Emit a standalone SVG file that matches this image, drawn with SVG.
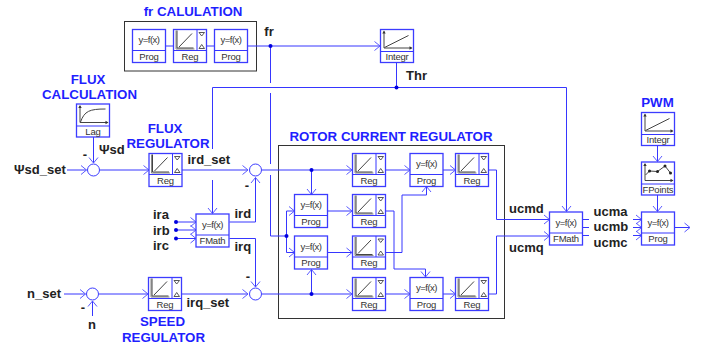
<svg xmlns="http://www.w3.org/2000/svg" xmlns:xlink="http://www.w3.org/1999/xlink" width="701" height="346" viewBox="0 0 701 346">
<style>
text{font-family:"Liberation Sans",Arial,sans-serif}
.t{font-size:13px;font-weight:700;fill:#222}
.b{font-size:13.300px;font-weight:700;fill:#1f1fff}
.m{text-anchor:middle}
.y{font-size:9.500px;letter-spacing:-.5px;fill:#333;text-anchor:middle}
.l{font-size:9.500px;letter-spacing:-.2px;fill:#333;text-anchor:middle}
.box{fill:#fff;stroke:#3c3cff;stroke-width:1.300}
.c{fill:none;stroke:#3636ff;stroke-width:1}
.a{marker-end:url(#arr)}
.s{fill:#fff;stroke:#3c3cff;stroke-width:1}
.frame{fill:none;stroke:#333;stroke-width:1}
.g{fill:none;stroke:#444;stroke-width:1}
.gl{fill:none;stroke:#888;stroke-width:1}
.tri{fill:none;stroke:#444;stroke-width:.9}
.d{fill:#0000e0}
</style>
<defs>
<marker id="arr" markerUnits="userSpaceOnUse" markerWidth="10" markerHeight="12" refX="8" refY="6" orient="auto"><path d="M2.500 1.500L8 6L2.500 10.500" fill="none" stroke="#5a5aff" stroke-width="1"/></marker>
<g id="prog"><rect class="box" width="33" height="33"/><path class="c" d="M0 21H33"/><text class="y" x="16.500" y="13.500">y=f(x)</text><text class="l" x="16.500" y="30">Prog</text></g>
<g id="fmath"><rect class="box" width="33" height="33"/><path class="c" d="M0 21H33"/><text class="y" x="16.500" y="13.500">y=f(x)</text><text class="l" x="16.500" y="30">FMath</text></g>
<g id="reg"><rect class="box" width="33" height="33"/><path class="c" d="M0 21H33M23.500 0V21"/><path class="gl" d="M2.500 1V19.500H21"/><path class="g" d="M3.500 1V18.500H20M5.500 17.500L18.500 4"/><path class="tri" d="M25.500 3H31L28.200 6.500ZM25.500 19H31L28.200 15Z"/><text class="l" x="16.500" y="30">Reg</text></g>
<g id="axes"><path class="g" d="M3.500 2V18.500H31"/><path d="M1.800 4L3.500 1L5.200 4ZM29 16.800L32 18.500L29 20.200Z" fill="#333"/></g>
<g id="integr"><rect class="box" width="33" height="33"/><path class="c" d="M0 22H33"/><use xlink:href="#axes"/><path class="g" d="M4 18L28 6"/><text class="l" x="16.500" y="30.500">Integr</text></g>
<g id="lag"><rect class="box" width="33" height="33"/><path class="c" d="M0 22H33"/><use xlink:href="#axes"/><path class="g" d="M4 18C8 7 13 5 29 5"/><text class="l" x="16.500" y="30.500">Lag</text></g>
<g id="fpoints"><rect class="box" width="33" height="33"/><path class="c" d="M0 22H33"/><use xlink:href="#axes"/><path class="g" d="M4 13L8 9L16 9.500L23.500 4L29 11"/><path d="M8 9h.01M16 9.500h.01M23.500 4h.01M29 11h.01" stroke="#222" stroke-width="3" stroke-linecap="round"/><text class="l" x="16.500" y="30.500">FPoints</text></g>
</defs>
<rect width="701" height="346" fill="#fff"/>
<rect class="frame" x="124.500" y="21.500" width="132" height="49.500"/>
<rect class="frame" x="278.500" y="145.500" width="226" height="173"/>
<g id="connectors">
<path class="c" d="M165.500 46H173.500M206.500 46H214.500"/>
<path class="c a" d="M247.500 46H380"/>
<path class="c" d="M270.500 46V83M270.500 93V164M270.500 175V236H286.500"/>
<path class="c" d="M212.500 149V87.500H566.500"/>
<path class="c a" d="M212.500 180V213.500"/>
<path class="c" d="M396.500 62V87"/>
<path class="c a" d="M566.500 87.500V211.500"/>
<path class="c a" d="M67 170H86.500"/>
<path class="c a" d="M93.500 137V163"/>
<path class="c a" d="M100 170H149"/>
<path class="c a" d="M182 170H248"/>
<path class="c a" d="M262 170H352"/>
<path class="c a" d="M64 294H85.500"/>
<path class="c a" d="M92.500 316V301"/>
<path class="c a" d="M99 294H148"/>
<path class="c a" d="M181.500 294H248"/>
<path class="c a" d="M262 294H352"/>
<path class="c a" d="M176 222H196"/>
<path class="c a" d="M176 230H196"/>
<path class="c a" d="M176 238.500H196"/>
<path class="c a" d="M229.500 222H255.500V177.500"/>
<path class="c a" d="M229.500 238.500H255.500V287"/>
<path class="c a" d="M311.500 170V194.500"/>
<path class="c a" d="M311.500 294V269.500"/>
<path class="c a" d="M286.500 236V211H294.500"/>
<path class="c a" d="M286.500 236V252.500H294.500"/>
<path class="c a" d="M327.500 211H352"/>
<path class="c a" d="M327.500 252.500H352"/>
<path class="c a" d="M385.500 170H410"/>
<path class="c a" d="M385.500 294H410"/>
<path class="c a" d="M385.500 211H394V269H425.500V277"/>
<path class="c a" d="M385.500 252.500H402V195H426.500V186.500"/>
<path class="c a" d="M443 170H455.500"/>
<path class="c a" d="M443 294H455.500"/>
<path class="c a" d="M488.500 170H496.500V219.500H549.500"/>
<path class="c a" d="M488.500 294H496.500V236H549.500"/>
<path class="c" d="M583 219.500H589M583 227.500H589M583 235.500H589"/>
<path class="c a" d="M633 219.500H641.500"/>
<path class="c a" d="M633 227.500H641.500"/>
<path class="c a" d="M633 235.500H641.500"/>
<path class="c a" d="M674.500 227.500H690"/>
<path class="c a" d="M657.500 145.500V161.500"/>
<path class="c a" d="M657.500 195V211.500"/>
<circle class="d" cx="270.500" cy="46" r="2"/>
<circle class="d" cx="396.500" cy="87.500" r="2"/>
<circle class="d" cx="176" cy="222" r="2"/>
<circle class="d" cx="176" cy="230" r="2"/>
<circle class="d" cx="176" cy="238.500" r="2"/>
<circle class="d" cx="286.500" cy="236" r="2"/>
<circle class="d" cx="311.500" cy="170" r="2"/>
<circle class="d" cx="311.500" cy="294" r="2"/>
</g>
<g id="sum1"><circle class="s" cx="93.500" cy="170" r="6"/></g>
<g id="sum2"><circle class="s" cx="255.500" cy="170" r="6"/></g>
<g id="sum3"><circle class="s" cx="92.500" cy="294" r="6"/></g>
<g id="sum4"><circle class="s" cx="255.500" cy="294" r="6"/></g>
<g id="fr-prog1" transform="translate(132.500 29.500)"><use xlink:href="#prog"/></g>
<g id="fr-reg" transform="translate(173.500 29.500)"><use xlink:href="#reg"/></g>
<g id="fr-prog2" transform="translate(214.500 29.500)"><use xlink:href="#prog"/></g>
<g id="thr-integr" transform="translate(380.500 29.500)"><use xlink:href="#integr"/></g>
<g id="flux-lag" transform="translate(76.500 104)"><use xlink:href="#lag"/></g>
<g id="flux-reg" transform="translate(149 153.500)"><use xlink:href="#reg"/></g>
<g id="speed-reg" transform="translate(148.500 277.500)"><use xlink:href="#reg"/></g>
<g id="ir-fmath" transform="translate(196 214)"><use xlink:href="#fmath"/></g>
<g id="rc-prog1" transform="translate(294.500 194.500)"><use xlink:href="#prog"/></g>
<g id="rc-prog2" transform="translate(294.500 236)"><use xlink:href="#prog"/></g>
<g id="rc-reg1" transform="translate(352.500 153.500)"><use xlink:href="#reg"/></g>
<g id="rc-reg2" transform="translate(352.500 194.500)"><use xlink:href="#reg"/></g>
<g id="rc-reg3" transform="translate(352.500 236)"><use xlink:href="#reg"/></g>
<g id="rc-reg4" transform="translate(352.500 277.500)"><use xlink:href="#reg"/></g>
<g id="rc-prog3" transform="translate(410 153.500)"><use xlink:href="#prog"/></g>
<g id="rc-prog4" transform="translate(410 277.500)"><use xlink:href="#prog"/></g>
<g id="rc-reg5" transform="translate(455.500 153.500)"><use xlink:href="#reg"/></g>
<g id="rc-reg6" transform="translate(455.500 277.500)"><use xlink:href="#reg"/></g>
<g id="uc-fmath" transform="translate(549.500 212)"><use xlink:href="#fmath"/></g>
<g id="pwm-integr" transform="translate(641.500 112.500)"><use xlink:href="#integr"/></g>
<g id="pwm-fpoints" transform="translate(641.500 162)"><use xlink:href="#fpoints"/></g>
<g id="pwm-prog" transform="translate(641.500 212)"><use xlink:href="#prog"/></g>
<g id="labels">
<text class="b m" x="193" y="16">fr CALULATION</text>
<text class="b m" x="88" y="84">FLUX</text>
<text class="b m" x="89.500" y="99">CALCULATION</text>
<text class="b m" x="165" y="132.500">FLUX</text>
<text class="b m" x="168" y="148">REGULATOR</text>
<text class="b m" x="162.500" y="326">SPEED</text>
<text class="b m" x="163.500" y="341.500">REGULATOR</text>
<text class="b m" x="391" y="141">ROTOR CURRENT REGULATOR</text>
<text class="b m" x="657.500" y="107">PWM</text>
<text class="t m" x="269" y="36">fr</text>
<text class="t" x="406" y="80">Thr</text>
<text class="t" x="99" y="153.500">Ψsd</text>
<text class="t" x="14" y="174">Ψsd_set</text>
<text class="t" x="187.500" y="164">ird_set</text>
<text class="t" x="153" y="219">ira</text>
<text class="t" x="153" y="234.500">irb</text>
<text class="t" x="153" y="250">irc</text>
<text class="t" x="234.500" y="218">ird</text>
<text class="t" x="234.500" y="250.500">irq</text>
<text class="t" x="27" y="298">n_set</text>
<text class="t m" x="92" y="329">n</text>
<text class="t" x="186.500" y="307">irq_set</text>
<text class="t" x="509" y="213">ucmd</text>
<text class="t" x="509" y="252">ucmq</text>
<text class="t" x="593.500" y="215.500">ucma</text>
<text class="t" x="593.500" y="231">ucmb</text>
<text class="t" x="593.500" y="246.500">ucmc</text>
<text class="t m" x="85" y="159">-</text>
<text class="t m" x="247" y="190">-</text>
<text class="t m" x="248" y="281">-</text>
<text class="t m" x="83" y="312">-</text>
</g>
</svg>
